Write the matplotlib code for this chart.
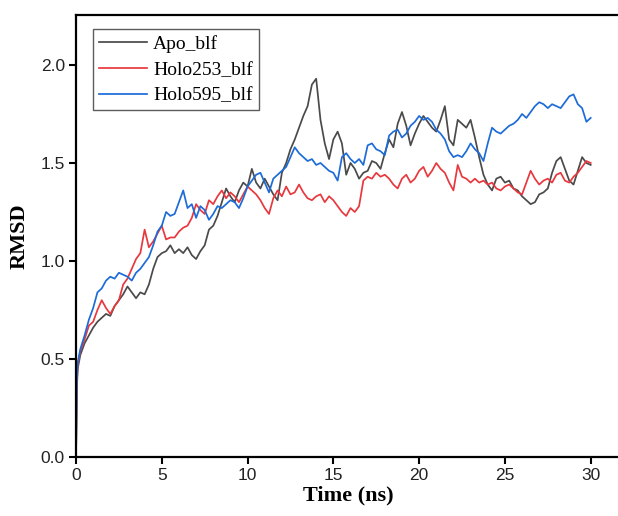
import numpy as np
import matplotlib
matplotlib.use("Agg")
import matplotlib.pyplot as plt

# time points (ns)
time_ns = [0.0, 0.05, 0.1] + [round(0.25 * i, 2) for i in range(1, 121)]

apo_blf = [
    0.00, 0.35, 0.45,
    0.52, 0.58, 0.62, 0.66, 0.69, 0.71, 0.73, 0.72, 0.77, 0.80, 0.83, 0.87,
    0.84, 0.81, 0.84, 0.83, 0.88, 0.96, 1.02, 1.04, 1.05, 1.08, 1.04, 1.06,
    1.04, 1.07, 1.03, 1.01, 1.05, 1.08, 1.16, 1.18, 1.23, 1.30, 1.37, 1.33,
    1.30, 1.36, 1.40, 1.38, 1.47, 1.40, 1.37, 1.42, 1.38, 1.34, 1.31, 1.45,
    1.50, 1.57, 1.62, 1.68, 1.74, 1.79, 1.90, 1.93, 1.72, 1.60, 1.52, 1.62,
    1.66, 1.60, 1.44, 1.50, 1.47, 1.42, 1.45, 1.46, 1.51, 1.50, 1.47, 1.55,
    1.62, 1.58, 1.70, 1.76, 1.69, 1.59, 1.65, 1.70, 1.74, 1.71, 1.68, 1.66,
    1.72, 1.79, 1.62, 1.59, 1.72, 1.70, 1.68, 1.72, 1.63, 1.53, 1.44, 1.39,
    1.36, 1.42, 1.43, 1.40, 1.41, 1.37, 1.36, 1.33, 1.31, 1.29, 1.30, 1.34,
    1.35, 1.37, 1.45, 1.51, 1.53, 1.47, 1.41, 1.39, 1.46, 1.53, 1.50, 1.49,
]

holo253_blf = [
    0.00, 0.38, 0.47,
    0.54, 0.60, 0.67, 0.69, 0.75, 0.80, 0.76, 0.73, 0.77, 0.80, 0.88, 0.91,
    0.96, 1.01, 1.04, 1.16, 1.07, 1.10, 1.14, 1.18, 1.11, 1.12, 1.12, 1.15,
    1.17, 1.18, 1.22, 1.29, 1.26, 1.24, 1.31, 1.29, 1.33, 1.36, 1.32, 1.35,
    1.33, 1.30, 1.34, 1.38, 1.36, 1.34, 1.31, 1.27, 1.24, 1.32, 1.36, 1.33,
    1.38, 1.34, 1.35, 1.39, 1.35, 1.32, 1.31, 1.33, 1.34, 1.30, 1.33, 1.31,
    1.28, 1.25, 1.23, 1.27, 1.25, 1.28, 1.41, 1.43, 1.42, 1.45, 1.43, 1.44,
    1.42, 1.39, 1.37, 1.42, 1.44, 1.40, 1.42, 1.46, 1.48, 1.43, 1.46, 1.50,
    1.47, 1.45, 1.40, 1.36, 1.49, 1.43, 1.42, 1.40, 1.42, 1.40, 1.41, 1.39,
    1.40, 1.37, 1.36, 1.38, 1.39, 1.37, 1.35, 1.34, 1.40, 1.46, 1.42, 1.39,
    1.41, 1.42, 1.40, 1.44, 1.45, 1.41, 1.40, 1.43, 1.45, 1.48, 1.51, 1.50,
]

holo595_blf = [
    0.00, 0.40, 0.48,
    0.55, 0.62, 0.70, 0.76, 0.84, 0.86, 0.90, 0.92, 0.91, 0.94, 0.93, 0.92,
    0.90, 0.94, 0.96, 0.99, 1.02, 1.08, 1.15, 1.18, 1.25, 1.23, 1.24, 1.30,
    1.36, 1.27, 1.29, 1.22, 1.28, 1.26, 1.21, 1.24, 1.28, 1.27, 1.29, 1.31,
    1.30, 1.27, 1.32, 1.38, 1.41, 1.44, 1.45, 1.40, 1.35, 1.42, 1.44, 1.46,
    1.48, 1.53, 1.58, 1.55, 1.53, 1.51, 1.52, 1.49, 1.50, 1.48, 1.46, 1.45,
    1.41, 1.53, 1.55, 1.52, 1.50, 1.52, 1.49, 1.59, 1.60, 1.57, 1.56, 1.54,
    1.64, 1.66, 1.67, 1.63, 1.65, 1.69, 1.71, 1.74, 1.72, 1.73, 1.71, 1.67,
    1.65, 1.62, 1.56, 1.53, 1.54, 1.53, 1.56, 1.60, 1.57, 1.55, 1.51, 1.60,
    1.68, 1.66, 1.65, 1.67, 1.69, 1.70, 1.72, 1.75, 1.73, 1.76, 1.79, 1.81,
    1.80, 1.78, 1.80, 1.79, 1.78, 1.81, 1.84, 1.85, 1.80, 1.78, 1.71, 1.73,
]

series_names = ["Apo_blf", "Holo253_blf", "Holo595_blf"]
series_colors = ["#4a4a4a", "#e8383d", "#1c6bd8"]

x_ticks = [0, 5, 10, 15, 20, 25, 30]
y_ticks = [0.0, 0.5, 1.0, 1.5, 2.0]

fig = plt.figure(figsize=(6.18, 5.16), dpi=100)
ax = fig.add_axes([76 / 618, 59 / 516, 542 / 618 + 0.003, 442 / 516])

for vals, name, col in zip([apo_blf, holo253_blf, holo595_blf], series_names, series_colors):
    ax.plot(time_ns, vals, color=col, lw=1.25, label=name)

ax.set_xlim(0, 31.7)
ax.set_ylim(0, 2.255)
ax.set_xticks(x_ticks)
ax.set_yticks(y_ticks)
ax.set_xticklabels([str(v) for v in x_ticks])
ax.set_yticklabels([f"{v:.1f}" for v in y_ticks])

for s in ["left", "bottom", "top"]:
    ax.spines[s].set_linewidth(1.6)
    ax.spines[s].set_color("black")
ax.spines["right"].set_visible(False)

ax.tick_params(axis="both", direction="out", length=5, width=1.5, colors="black",
               labelsize=12.5, pad=3)
for lab in ax.get_xticklabels() + ax.get_yticklabels():
    lab.set_fontfamily("Liberation Sans")
    lab.set_color("#222222")

ax.set_xlabel("Time (ns)", fontfamily="Liberation Serif", fontweight="bold", fontsize=16, labelpad=2)
ax.set_ylabel("RMSD", fontfamily="Liberation Serif", fontweight="bold", fontsize=16, labelpad=8)

leg = ax.legend(loc="upper left", bbox_to_anchor=(0.031, 0.968), borderaxespad=0,
                prop={"family": "Liberation Serif", "size": 14},
                handlelength=2.5, handletextpad=0.3, labelspacing=0.42,
                borderpad=0.3, fancybox=False, frameon=True)
leg.get_frame().set_edgecolor("#333333")
leg.get_frame().set_linewidth(1.0)

fig.savefig("out.png", dpi=100, facecolor="white")
